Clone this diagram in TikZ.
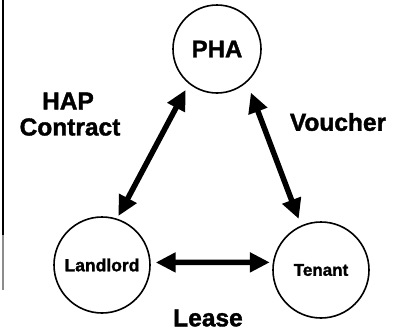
\documentclass[tikz,border=0pt]{standalone}
\usepackage{fontspec}
\setmainfont{Liberation Sans}[BoldFeatures={FakeBold=1.5}]
\usetikzlibrary{arrows.meta}
\tikzset{
  party/.style={circle, draw=black, line width=1.6pt, inner sep=0pt, minimum size=96pt},
  biglabel/.style={font=\fontsize{24.5}{26}\selectfont\bfseries, inner sep=0pt, align=center},
  rel/.style={line width=5.5pt, {Triangle[length=20pt,width=19pt]}-{Triangle[length=20pt,width=19pt]}}
}
\begin{document}
\begin{tikzpicture}[x=1pt,y=-1pt]
\useasboundingbox (0,0) rectangle (395,335);
\fill[white] (0,0) rectangle (395,335);
% left margin rule
\draw[line width=2pt, black] (3,0) -- (3,235);
\draw[line width=1.5pt, black!45] (3,235) -- (3,290);
% parties
\node[party, minimum size=88pt] (P) at (217,49) {\raisebox{-3pt}{\fontsize{24}{26}\selectfont\bfseries PHA}};
\node[party] (L) at (102,265) {\fontsize{17.5}{19}\selectfont\bfseries Landlord};
\node[party] (T) at (321,270) {\fontsize{17}{19}\selectfont\bfseries Tenant};
% relations
\draw[rel, shorten <=3pt, shorten >=7pt] (L.72) -- (P.231);
\draw[rel, shorten <=11pt, shorten >=7pt] (P.312) -- (T.114);
\draw[rel, shorten <=5pt, shorten >=3pt] (L.3) -- (T.171);
% labels
\node[biglabel] (hap) at (68,101) {HAP};
\node[biglabel] (con) at (70,127) {Contract};
\node[biglabel] (vou) at (338,122) {Voucher};
\node[biglabel] (lea) at (208,318) {Lease};
\end{tikzpicture}
\end{document}
